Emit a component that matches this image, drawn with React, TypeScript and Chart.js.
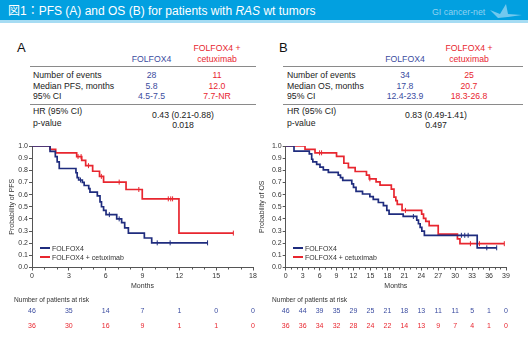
import React, { useEffect, useRef } from "react";
import { Chart, registerables } from "chart.js";
Chart.register(...registerables);

const FONT = "'Liberation Sans', Arial, Helvetica, 'Noto Sans CJK JP', sans-serif";
const BLUE = "#1f2c7e";
const RED = "#e8262f";
const BLUE_TXT = "#3b4ca0";
const RED_TXT = "#e8262f";
const AXIS = "#555";
const TXT = "#333";

// ---------- Panel A: PFS ----------
const pfsFolfoxTime = [0, 1.47, 1.9, 2.05, 2.22, 3.58, 3.68, 3.8, 4.1, 4.25, 4.62, 4.72, 5.32, 5.54, 5.66, 5.83, 6.03, 6.9, 7.3, 7.55, 7.85, 9.15, 9.75, 14.3];
const pfsFolfoxSurv = [1, 0.955, 0.913, 0.87, 0.815, 0.78, 0.74, 0.72, 0.7, 0.675, 0.65, 0.62, 0.59, 0.54, 0.5, 0.47, 0.435, 0.4, 0.37, 0.326, 0.283, 0.243, 0.203, 0.203];
const pfsFolfoxCensor = [3.95, 6.3, 7.1, 10.2, 11.25, 14.3];

const pfsCetuxTime = [0, 1.47, 1.93, 3.64, 4.05, 4.37, 4.94, 5.5, 5.83, 7.66, 8.98, 11.97, 16.4];
const pfsCetuxSurv = [1, 0.972, 0.944, 0.913, 0.882, 0.838, 0.792, 0.75, 0.703, 0.642, 0.565, 0.283, 0.283];
const pfsCetuxCensor = [3.75, 4.0, 4.6, 5.65, 7.1, 8.7, 11.1, 11.3, 11.45, 16.4];

const riskTicksA = [0, 3, 6, 9, 12, 15, 18];
const riskFolfoxA = [46, 35, 14, 7, 1, 0, 0];
const riskCetuxA = [36, 30, 16, 9, 1, 1, 0];

// ---------- Panel B: OS ----------
const osFolfoxTime = [0, 1.47, 4.18, 4.6, 4.8, 5.48, 6.07, 6.66, 7.55, 9.3, 9.7, 10.1, 11.7, 12.0, 12.45, 13.6, 14.9, 15.5, 16.4, 17.3, 17.9, 18.3, 20.8, 23.2, 23.5, 23.8, 24.1, 24.55, 33.9, 37.35];
const osFolfoxSurv = [1, 0.957, 0.935, 0.891, 0.87, 0.848, 0.826, 0.804, 0.783, 0.761, 0.739, 0.717, 0.688, 0.659, 0.627, 0.605, 0.583, 0.56, 0.535, 0.51, 0.47, 0.44, 0.42, 0.39, 0.36, 0.33, 0.3, 0.265, 0.162, 0.162];
const osFolfoxCensor = [22.6, 31.1, 31.7, 32.3, 35.6, 37.35];

const osCetuxTime = [0, 3.42, 5.19, 9.0, 10.3, 11.1, 12.3, 14.3, 14.8, 16.0, 16.7, 18.7, 19.17, 19.5, 19.75, 20.6, 24.07, 24.4, 24.8, 25.4, 27.0, 30.4, 30.85, 38.7];
const osCetuxSurv = [1, 0.972, 0.944, 0.915, 0.858, 0.822, 0.79, 0.76, 0.73, 0.705, 0.678, 0.645, 0.58, 0.55, 0.52, 0.47, 0.44, 0.405, 0.38, 0.345, 0.275, 0.235, 0.196, 0.196];
const osCetuxCensor = [6.0, 6.35, 14.9, 21.2, 32.7, 34.3, 38.7];

const riskTicksB = [0, 3, 6, 9, 12, 15, 18, 21, 24, 27, 30, 33, 36, 39];
const riskFolfoxB = [46, 44, 39, 35, 29, 25, 21, 18, 13, 11, 11, 5, 1, 0];
const riskCetuxB = [36, 36, 34, 32, 28, 24, 22, 14, 13, 9, 7, 4, 1, 0];

// ---------- Tables ----------
const rowLabelsA = ["Number of events", "Median PFS, months", "95% CI"];
const folfoxStatsA = ["28", "5.8", "4.5-7.5"];
const cetuxStatsA = ["11", "12.0", "7.7-NR"];
const hrA = "0.43 (0.21-0.88)";
const pA = "0.018";

const rowLabelsB = ["Number of events", "Median OS, months", "95% CI"];
const folfoxStatsB = ["34", "17.8", "12.4-23.9"];
const cetuxStatsB = ["25", "20.7", "18.3-26.8"];
const hrB = "0.83 (0.49-1.41)";
const pB = "0.497";

function survAt(time: number[], surv: number[], t: number) {
  let v = surv[0];
  for (let i = 0; i < time.length; i++) if (time[i] <= t) v = surv[i];
  return v;
}

const riskPlugin = {
  id: "riskTable",
  afterDraw(chart: any, _a: any, opts: any) {
    if (!opts || !opts.rows) return;
    const { ctx } = chart;
    const xs = chart.scales.x;
    const area = chart.chartArea;
    ctx.save();
    ctx.strokeStyle = AXIS;
    ctx.lineWidth = 1;
    for (let m = 0; m <= xs.max; m += 1) {
      if (m % 3 === 0) continue;
      const px = Math.round(xs.getPixelForValue(m)) + 0.5;
      ctx.beginPath();
      ctx.moveTo(px, area.bottom);
      ctx.lineTo(px, area.bottom + 2);
      ctx.stroke();
    }
    ctx.font = `6.6px ${FONT}`;
    ctx.fillStyle = TXT;
    ctx.textAlign = "left";
    ctx.textBaseline = "middle";
    ctx.fillText("Number of patients at risk", opts.headerX, opts.headerY);
    ctx.font = `7px ${FONT}`;
    ctx.textAlign = "center";
    opts.rows.forEach((row: any) => {
      ctx.fillStyle = row.color;
      row.values.forEach((v: number, i: number) => {
        ctx.fillText(String(v), xs.getPixelForValue(opts.ticks[i]), row.y);
      });
    });
    ctx.restore();
  },
};

type Curve = { time: number[]; surv: number[]; censor: number[]; color: string };

type PanelProps = {
  left: number;
  top: number;
  width: number;
  height: number;
  plotLeft: number;
  plotBottom: number;
  padRight: number;
  xMax: number;
  yTitle: string;
  curves: Curve[];
  ticks: number[];
  riskBlue: number[];
  riskRed: number[];
  headerX: number;
};

function KMPanel(p: PanelProps) {
  const ref = useRef<HTMLCanvasElement | null>(null);
  useEffect(() => {
    if (!ref.current) return;
    const datasets: any[] = [];
    p.curves.forEach((c) => {
      datasets.push({
        data: c.time.map((t, i) => ({ x: t, y: c.surv[i] })),
        borderColor: c.color,
        borderWidth: 1.7,
        stepped: true,
        pointRadius: 0,
        fill: false,
      });
      datasets.push({
        data: c.censor.map((t) => ({ x: t, y: survAt(c.time, c.surv, t) })),
        showLine: false,
        pointStyle: "line",
        rotation: 90,
        pointRadius: 2.5,
        borderColor: c.color,
        borderWidth: 1,
      });
    });
    const xH = p.height - p.plotBottom;
    const chart = new Chart(ref.current, {
      type: "line",
      data: { datasets },
      plugins: [riskPlugin],
      options: {
        animation: false,
        responsive: false,
        maintainAspectRatio: false,
        layout: { padding: { left: 0, top: 8, right: p.padRight, bottom: 0 } },
        plugins: {
          legend: { display: false },
          tooltip: { enabled: false },
          riskTable: {
            rows: [
              { values: p.riskBlue, color: BLUE_TXT, y: 173 },
              { values: p.riskRed, color: RED_TXT, y: 188 },
            ],
            ticks: p.ticks,
            headerX: p.headerX,
            headerY: 162,
          },
        } as any,
        scales: {
          x: {
            type: "linear",
            min: 0,
            max: p.xMax,
            ticks: { stepSize: 3, font: { size: 7, family: FONT }, color: TXT, padding: 1, maxRotation: 0, autoSkip: false },
            grid: { drawOnChartArea: false, drawTicks: true, tickLength: 3, color: AXIS },
            border: { color: AXIS, width: 1 },
            title: { display: true, text: "Months", font: { size: 7, family: FONT }, color: TXT, padding: { top: 0, bottom: xH - 19 - 4.2 } },
            afterFit: (s: any) => {
              s.height = xH;
            },
          },
          y: {
            min: 0,
            max: 1,
            ticks: { stepSize: 0.1, font: { size: 7, family: FONT }, color: TXT, padding: 1, callback: (v: any) => Number(v).toFixed(1) },
            grid: { drawOnChartArea: false, drawTicks: true, tickLength: 3, color: AXIS },
            border: { color: AXIS, width: 1 },
            title: { display: true, text: p.yTitle, font: { size: 7, family: FONT }, color: TXT, padding: { top: 7.8, bottom: 0 } },
            afterFit: (s: any) => {
              s.width = p.plotLeft;
            },
          },
        },
      } as any,
    });
    return () => chart.destroy();
  }, []);
  return (
    <canvas
      ref={ref}
      width={p.width}
      height={p.height}
      style={{ position: "absolute", left: p.left, top: p.top, width: p.width, height: p.height }}
    />
  );
}

function T(props: { x: number; y: number; c?: string; s?: number; a?: "left" | "center"; children: any }) {
  const { x, y, c = "#222", s = 8.7, a = "left", children } = props;
  return (
    <div
      style={{
        position: "absolute",
        left: x,
        top: y,
        transform: `translate(${a === "center" ? "-50%" : "0"}, -50%)`,
        color: c,
        fontSize: s,
        lineHeight: 1,
        whiteSpace: "nowrap",
      }}
    >
      {children}
    </div>
  );
}

function HLine({ x1, x2, y }: { x1: number; x2: number; y: number }) {
  return <div style={{ position: "absolute", left: x1, top: y, width: x2 - x1, height: 1, background: "#8a8a8a" }} />;
}

function StatsTable(props: {
  letter: string; lx: number; labelX: number; cBlue: number; cRed: number; cHR: number; x1: number; x2: number;
  labels: string[]; blue: string[]; red: string[]; hr: string; p: string;
}) {
  const rowsY = [75, 86, 96];
  return (
    <>
      <T x={props.lx} y={47} s={13} c="#111">{props.letter}</T>
      <T x={props.cBlue} y={59} a="center" c={BLUE_TXT}>FOLFOX4</T>
      <T x={props.cRed} y={47.5} a="center" c={RED_TXT}>FOLFOX4 +</T>
      <T x={props.cRed} y={58.5} a="center" c={RED_TXT}>cetuximab</T>
      <HLine x1={props.x1} x2={props.x2} y={66} />
      {props.labels.map((l, i) => (
        <React.Fragment key={l}>
          <T x={props.labelX} y={rowsY[i]}>{l}</T>
          <T x={props.cBlue} y={rowsY[i]} a="center" c={BLUE_TXT}>{props.blue[i]}</T>
          <T x={props.cRed} y={rowsY[i]} a="center" c={RED_TXT}>{props.red[i]}</T>
        </React.Fragment>
      ))}
      <HLine x1={props.x1} x2={props.x2} y={103.5} />
      <T x={props.labelX} y={111}>HR (95% CI)</T>
      <T x={props.cHR} y={115} a="center">{props.hr}</T>
      <T x={props.labelX} y={122.5}>p-value</T>
      <T x={props.cHR} y={124.5} a="center">{props.p}</T>
    </>
  );
}

function Legend({ x, y }: { x: number; y: number }) {
  return (
    <>
      <div style={{ position: "absolute", left: x, top: y - 0.85, width: 10, height: 1.7, background: BLUE }} />
      <T x={x + 12} y={y} s={7} c={TXT}>FOLFOX4</T>
      <div style={{ position: "absolute", left: x, top: y + 9.6 - 0.85, width: 10, height: 1.7, background: RED }} />
      <T x={x + 12} y={y + 9.6} s={7} c={TXT}>FOLFOX4 + cetuximab</T>
    </>
  );
}

export default function App() {
  return (
    <div
      style={{
        position: "fixed",
        left: 0,
        top: 0,
        width: 528,
        height: 355,
        background: "#fff",
        overflow: "hidden",
        fontFamily: FONT,
      }}
    >
      <div style={{ position: "absolute", left: 0, top: 0, width: 528, height: 20, background: "#02a0e0" }} />
      <div style={{ position: "absolute", left: 0, top: 20, width: 528, height: 3, background: "#a6dcf3" }} />
      <T x={8} y={11} s={12} c="#fff">
        図1：PFS (A) and OS (B) for patients with <i>RAS</i> wt tumors
      </T>
      <T x={432} y={12} s={8.8} c="#8fd2f1">GI cancer-net</T>
      <svg style={{ position: "absolute", left: 488, top: 2, width: 36, height: 18 }} viewBox="0 0 36 18">
        <polygon points="2,8 12,12 18,2 20,12 34,13 20,15 10,16" fill="#8fd2f1" opacity={0.8} />
      </svg>

      <StatsTable letter="A" lx={17} labelX={33} cBlue={151.5} cRed={217} cHR={183} x1={30} x2={256}
        labels={rowLabelsA} blue={folfoxStatsA} red={cetuxStatsA} hr={hrA} p={pA} />
      <StatsTable letter="B" lx={279} labelX={287} cBlue={405} cRed={469} cHR={436} x1={283} x2={523}
        labels={rowLabelsB} blue={folfoxStatsB} red={cetuxStatsB} hr={hrB} p={pB} />

      <KMPanel
        left={0} top={138} width={262} height={198} plotLeft={32} plotBottom={129.5} padRight={9} xMax={18}
        yTitle="Probability of PFS"
        curves={[
          { time: pfsFolfoxTime, surv: pfsFolfoxSurv, censor: pfsFolfoxCensor, color: BLUE },
          { time: pfsCetuxTime, surv: pfsCetuxSurv, censor: pfsCetuxCensor, color: RED },
        ]}
        ticks={riskTicksA} riskBlue={riskFolfoxA} riskRed={riskCetuxA} headerX={14}
      />
      <KMPanel
        left={250} top={138} width={278} height={198} plotLeft={35.7} plotBottom={129.5} padRight={22} xMax={39}
        yTitle="Probability of OS"
        curves={[
          { time: osFolfoxTime, surv: osFolfoxSurv, censor: osFolfoxCensor, color: BLUE },
          { time: osCetuxTime, surv: osCetuxSurv, censor: osCetuxCensor, color: RED },
        ]}
        ticks={riskTicksB} riskBlue={riskFolfoxB} riskRed={riskCetuxB} headerX={22}
      />
      <Legend x={40} y={247.7} />
      <Legend x={293} y={247.7} />
    </div>
  );
}
